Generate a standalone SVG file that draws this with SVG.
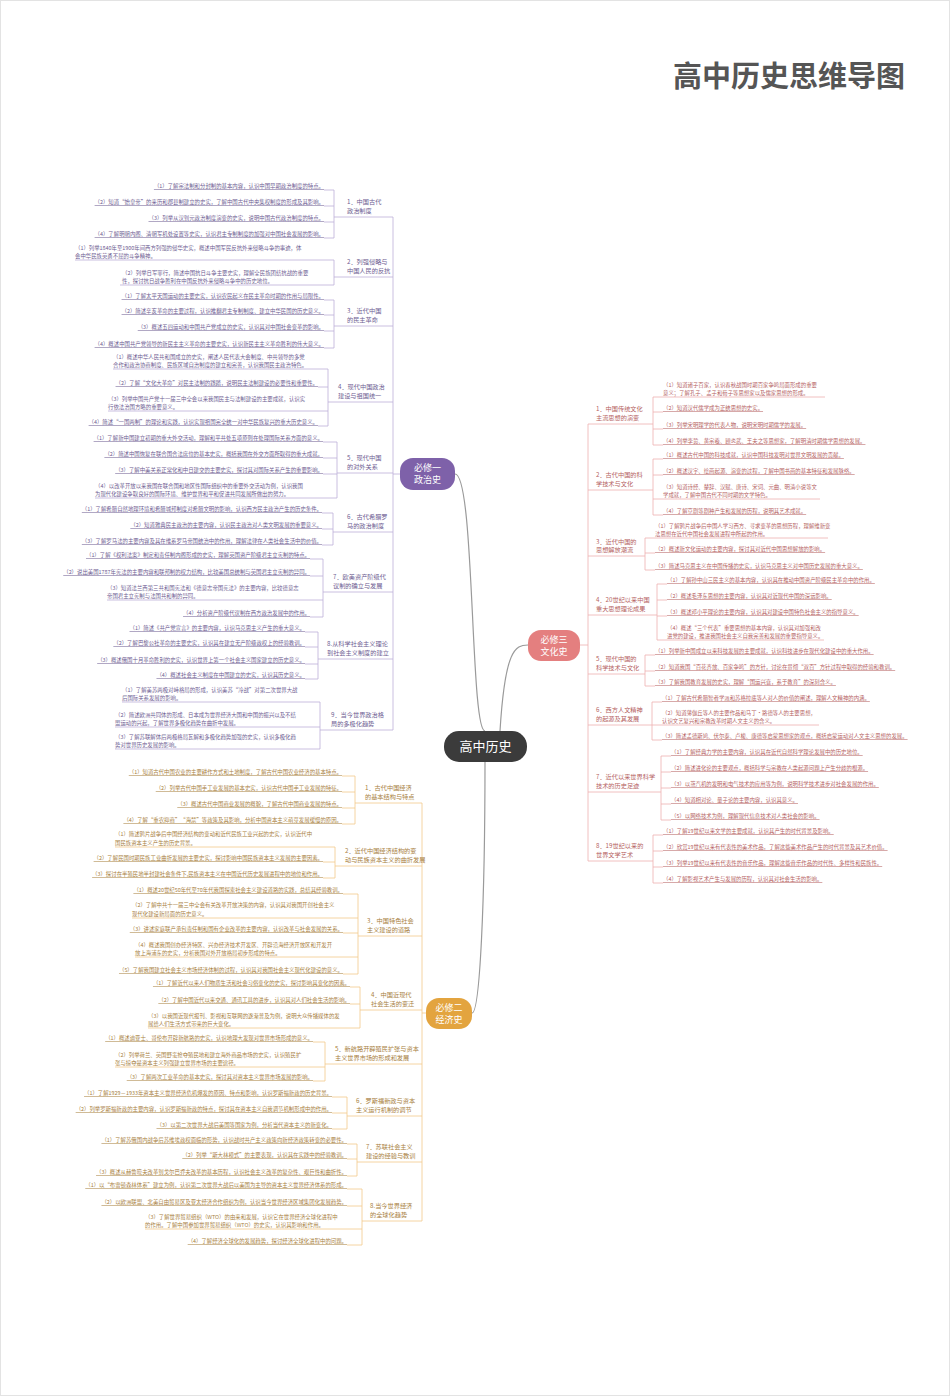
<svg xmlns="http://www.w3.org/2000/svg" width="950" height="1396" viewBox="0 0 950 1396">
<style>
text{font-family:"Noto Sans CJK SC","Noto Sans",sans-serif;}
.t{font-size:5.4px;}
.e{text-anchor:end;}
.u{text-decoration:underline;text-underline-offset:2px;}
.lb{font-size:6.2px;}
.p{fill:#6e5d92;text-decoration-color:#bcaed8;}
.o{fill:#a8803e;text-decoration-color:#f2c98a;}
.c{fill:#b55f5f;text-decoration-color:#eeb0b0;}
.lp{fill:none;stroke:#bcaed8;stroke-width:0.8;}
.lo{fill:none;stroke:#f2c98a;stroke-width:0.8;}
.lc{fill:none;stroke:#eeb0b0;stroke-width:0.8;}
.ls{fill:none;stroke:#9a9a9a;stroke-width:1.2;}
.nt{fill:#fff;font-size:9px;text-anchor:middle;}
</style>
<rect x="0" y="0" width="950" height="1396" fill="#fff"/>
<rect x="0.5" y="0.5" width="949" height="1395" fill="none" stroke="#e3e3e3"/>
<text x="905" y="87" font-size="29" font-weight="bold" fill="#555" text-anchor="end" style="font-family:'Noto Sans CJK SC',sans-serif">高中历史思维导图</text>

<g id="connectors">
<path class="ls" d="M455,474 C475,474 470,731 485,731"/>
<path class="ls" d="M500,731 C505,650 515,645 528,645"/>
<path class="ls" d="M485,762 C485,900 480,1013 472,1013"/>
<!-- politics spine -->
<path class="lp" d="M393,217 V730 M393,474 H400"/>
<path class="lp" d="M334,217 H393 M334,277 H393 M334,326 H393 M328,402 H393 M337,473 H393 M333,532 H393 M323,592 H393 M318,659 H393 M320,730 H393"/>
<path class="lp" d="M334,190 V238 M324,190 H334 M324,206 H334 M324,222 H334 M324,238 H334"/>
<path class="lp" d="M334,260 V285 M75,260 H334 M120,285 H334"/>
<path class="lp" d="M334,300 V348 M324,300 H334 M324,315 H334 M324,331 H334 M324,348 H334"/>
<path class="lp" d="M328,369 V426 M113,369 H328 M318,387 H328 M108,411 H328 M318,426 H328"/>
<path class="lp" d="M337,442 V498 M323,442 H337 M323,458 H337 M323,474 H337 M95,498 H337"/>
<path class="lp" d="M333,513 V545 M322,513 H333 M322,529 H333 M322,545 H333"/>
<path class="lp" d="M323,559 V617 M310,559 H323 M310,576 H323 M107,600 H323 M310,617 H323"/>
<path class="lp" d="M318,632 V679 M305,632 H318 M305,647 H318 M305,664 H318 M305,679 H318"/>
<path class="lp" d="M320,702 V749 M122,702 H320 M115,727 H320 M115,749 H320"/>
<!-- economics -->
<path class="lo" d="M422,803 V1221 M422,1013 H426"/>
<path class="lo" d="M355,803 H422 M335,866 H422 M358,936 H422 M360,1010 H422 M325,1064 H422 M347,1116 H422 M357,1162 H422 M362,1221 H422"/>
<path class="lo" d="M355,776 V824 M342,776 H355 M342,792 H355 M342,808 H355 M342,824 H355"/>
<path class="lo" d="M335,847 V878 M115,847 H335 M323,862 H335 M323,878 H335"/>
<path class="lo" d="M358,894 V974 M343,894 H358 M132,918 H358 M343,933 H358 M135,957 H358 M343,974 H358"/>
<path class="lo" d="M360,987 V1028 M350,987 H360 M350,1004 H360 M148,1028 H360"/>
<path class="lo" d="M325,1042 V1081 M313,1042 H325 M115,1067 H325 M313,1081 H325"/>
<path class="lo" d="M347,1097 V1129 M332,1097 H347 M332,1113 H347 M332,1129 H347"/>
<path class="lo" d="M357,1144 V1176 M347,1144 H357 M347,1159 H357 M347,1176 H357"/>
<path class="lo" d="M362,1189 V1245 M347,1189 H362 M347,1206 H362 M145,1229 H362 M347,1245 H362"/>
<!-- culture -->
<path class="lc" d="M588,424 V861 M580,645 H588"/>
<path class="lc" d="M588,424 H653 M588,490 H653 M588,556 H645 M588,615 H657 M588,674 H645 M588,725 H652 M588,792 H661 M588,861 H653"/>
<path class="lc" d="M653,397 V445 M653,397 H825 M653,412 H663 M653,429 H663 M653,445 H663"/>
<path class="lc" d="M653,459 V515 M653,459 H663 M653,475 H663 M653,499 H820 M653,515 H663"/>
<path class="lc" d="M645,538 V570 M645,538 H828 M645,553 H655 M645,570 H655"/>
<path class="lc" d="M657,584 V640 M657,584 H667 M657,600 H667 M657,616 H667 M657,640 H824"/>
<path class="lc" d="M645,655 V686 M645,655 H655 M645,671 H655 M645,686 H655"/>
<path class="lc" d="M652,702 V740 M652,702 H662 M652,725 H819 M652,740 H662"/>
<path class="lc" d="M661,756 V820 M661,756 H671 M661,772 H671 M661,788 H671 M661,804 H671 M661,820 H671"/>
<path class="lc" d="M653,835 V883 M653,835 H663 M653,851 H663 M653,867 H663 M653,883 H663"/>
</g>

<g id="center"><rect x="444" y="731" width="83" height="31" rx="15" fill="#3b3b3b"/><text x="485.5" y="751" fill="#fff" font-size="13" text-anchor="middle">高中历史</text></g>
<g id="n-politics"><rect x="400" y="458" width="55" height="32" rx="13" fill="#7e61a9"/><text class="nt" x="427.5" y="471">必修一</text><text class="nt" x="427.5" y="483">政治史</text></g>
<g id="n-culture"><rect x="528" y="630" width="52" height="31" rx="13" fill="#e47f7f"/><text class="nt" x="554" y="643">必修三</text><text class="nt" x="554" y="655">文化史</text></g>
<g id="n-economy"><rect x="426" y="998" width="46" height="31" rx="13" fill="#e3a43f"/><text class="nt" x="449" y="1011">必修二</text><text class="nt" x="449" y="1023">经济史</text></g>

<g id="politics">
<text class="lb p" x="347" y="204">1．中国古代</text><text class="lb p" x="347" y="213">政治制度</text>
<text class="t p e u" x="324" y="188">（1）了解宗法制和分封制的基本内容，认识中国早期政治制度的特点。</text>
<text class="t p e u" x="324" y="204">（2）知道“始皇帝”的来历和郡县制建立的史实，了解中国古代中央集权制度的形成及其影响。</text>
<text class="t p e u" x="324" y="220">（3）列举从汉到元政治制度演变的史实，说明中国古代政治制度的特点。</text>
<text class="t p e u" x="324" y="236">（4）了解明朝内阁、清朝军机处设置等史实，认识君主专制制度的加强对中国社会发展的影响。</text>
<text class="lb p" x="347" y="264">2．列强侵略与</text><text class="lb p" x="347" y="273">中国人民的反抗</text>
<text class="t p" x="75" y="250">（1）列举1840年至1900年间西方列强的侵华史实，概述中国军民反抗外来侵略斗争的事迹，体</text>
<text class="t p" x="75" y="258">会中华民族英勇不屈的斗争精神。</text>
<text class="t p" x="122" y="275">（2）列举日军罪行，简述中国抗日斗争主要史实，理解全民族团结抗战的重要</text>
<text class="t p" x="122" y="283">性，探讨抗日战争胜利在中国反抗外来侵略斗争中的历史地位。</text>
<text class="lb p" x="347" y="313">3．近代中国</text><text class="lb p" x="347" y="322">的民主革命</text>
<text class="t p e u" x="324" y="298">（1）了解太平天国运动的主要史实，认识农民起义在民主革命时期的作用与局限性。</text>
<text class="t p e u" x="324" y="313">（2）简述辛亥革命的主要过程，认识推翻君主专制制度、建立中华民国的历史意义。</text>
<text class="t p e u" x="324" y="329">（3）概述五四运动和中国共产党成立的史实，认识其对中国社会变革的影响。</text>
<text class="t p e u" x="324" y="346">（4）概述中国共产党领导的新民主主义革命的主要史实，认识新民主主义革命胜利的伟大意义。</text>
<text class="lb p" x="338" y="389">4．现代中国政治</text><text class="lb p" x="338" y="398">建设与祖国统一</text>
<text class="t p" x="113" y="359">（1）概述中华人民共和国成立的史实，阐述人民代表大会制度、中共领导的多党</text>
<text class="t p" x="113" y="367">合作和政治协商制度、民族区域自治制度的建立和完善，认识我国民主政治特色。</text>
<text class="t p e u" x="318" y="385">（2）了解“文化大革命”对民主法制的践踏，说明民主法制建设的必要性和重要性。</text>
<text class="t p" x="108" y="401">（3）列举中国共产党十一届三中全会以来我国民主与法制建设的主要成就，认识实</text>
<text class="t p" x="108" y="409">行依法治国方略的重要意义。</text>
<text class="t p e u" x="318" y="424">（4）简述“一国两制”的理论和实践，认识实现祖国完全统一对中华民族复兴的重大历史意义。</text>
<text class="lb p" x="347" y="460">5．现代中国</text><text class="lb p" x="347" y="469">的对外关系</text>
<text class="t p e u" x="323" y="440">（1）了解新中国建立初期的重大外交活动，理解和平共处五项原则在处理国际关系方面的意义。</text>
<text class="t p e u" x="323" y="456">（2）简述中国恢复在联合国合法席位的基本史实，概括我国在外交方面所取得的重大成就。</text>
<text class="t p e u" x="323" y="472">（3）了解中美关系正常化和中日建交的主要史实，探讨其对国际关系产生的重要影响。</text>
<text class="t p" x="95" y="488">（4）以改革开放以来我国在联合国和地区性国际组织中的重要外交活动为例，认识我国</text>
<text class="t p" x="95" y="496">为现代化建设争取良好的国际环境、维护世界和平和促进共同发展所做出的努力。</text>
<text class="lb p" x="347" y="519">6．古代希腊罗</text><text class="lb p" x="347" y="528">马的政治制度</text>
<text class="t p e u" x="322" y="511">（1）了解希腊自然地理环境和希腊城邦制度对希腊文明的影响，认识西方民主政治产生的历史条件。</text>
<text class="t p e u" x="322" y="527">（2）知道雅典民主政治的主要内容，认识民主政治对人类文明发展的重要意义。</text>
<text class="t p e u" x="322" y="543">（3）了解罗马法的主要内容及其在维系罗马帝国统治中的作用，理解法律在人类社会生活中的价值。</text>
<text class="lb p" x="333" y="579">7．欧美资产阶级代</text><text class="lb p" x="333" y="588">议制的确立与发展</text>
<text class="t p e u" x="310" y="557">（1）了解《权利法案》制定和责任制内阁形成的史实，理解英国资产阶级君主立宪制的特点。</text>
<text class="t p e u" x="310" y="574">（2）说出美国1787年宪法的主要内容和联邦制的权力结构，比较美国总统制与英国君主立宪制的异同。</text>
<text class="t p" x="107" y="590">（3）知道法兰西第三共和国宪法和《德意志帝国宪法》的主要内容，比较德意志</text>
<text class="t p" x="107" y="598">帝国君主立宪制与法国共和制的异同。</text>
<text class="t p e u" x="310" y="615">（4）分析资产阶级代议制在西方政治发展中的作用。</text>
<text class="lb p" x="327" y="646">8.从科学社会主义理论</text><text class="lb p" x="327" y="655">到社会主义制度的建立</text>
<text class="t p e u" x="305" y="630">（1）简述《共产党宣言》的主要内容，认识马克思主义产生的重大意义。</text>
<text class="t p e u" x="305" y="645">（2）了解巴黎公社革命的主要史实，认识其在建立无产阶级政权上的经验教训。</text>
<text class="t p e u" x="305" y="662">（3）概述俄国十月革命胜利的史实，认识世界上第一个社会主义国家建立的历史意义。</text>
<text class="t p e u" x="305" y="677">（4）概述社会主义制度在中国建立的史实，认识其历史意义。</text>
<text class="lb p" x="331" y="717">9．当今世界政治格</text><text class="lb p" x="331" y="726">局的多极化趋势</text>
<text class="t p" x="122" y="692">（1）了解美苏两极对峙格局的形成，认识美苏“冷战”对第二次世界大战</text>
<text class="t p" x="122" y="700">后国际关系发展的影响。</text>
<text class="t p" x="115" y="717">（2）简述欧洲共同体的形成、日本成为世界经济大国和中国的振兴以及不结</text>
<text class="t p" x="115" y="725">盟运动的兴起，了解世界多极化趋势在曲折中发展。</text>
<text class="t p" x="115" y="739">（3）了解苏联解体后两极格局瓦解和多极化趋势加强的史实，认识多极化趋</text>
<text class="t p" x="115" y="747">势对世界历史发展的影响。</text>
</g>

<g id="economy">
<text class="lb o" x="365" y="790">1．古代中国经济</text><text class="lb o" x="365" y="799">的基本结构与特点</text>
<text class="t o e u" x="342" y="774">（1）知道古代中国农业的主要耕作方式和土地制度，了解古代中国农业经济的基本特点。</text>
<text class="t o e u" x="342" y="790">（2）列举古代中国手工业发展的基本史实，认识古代中国手工业发展的特征。</text>
<text class="t o e u" x="342" y="806">（3）概述古代中国商业发展的概貌，了解古代中国商业发展的特点。</text>
<text class="t o e u" x="342" y="822">（4）了解“重农抑商”“海禁”等政策及其影响，分析中国资本主义萌芽发展缓慢的原因。</text>
<text class="lb o" x="345" y="853">2．近代中国经济结构的变</text><text class="lb o" x="345" y="862">动与民族资本主义的曲折发展</text>
<text class="t o" x="115" y="836">（1）简述鸦片战争后中国经济结构的变动和近代民族工业兴起的史实，认识近代中</text>
<text class="t o" x="115" y="845">国民族资本主义产生的历史背景。</text>
<text class="t o e u" x="323" y="860">（2）了解民国时期民族工业曲折发展的主要史实，探讨影响中国民族资本主义发展的主要因素。</text>
<text class="t o e u" x="323" y="876">（3）探讨在半殖民地半封建社会条件下,民族资本主义在中国近代历史发展进程中的地位和作用。</text>
<text class="lb o" x="367" y="923">3．中国特色社会</text><text class="lb o" x="367" y="932">主义建设的道路</text>
<text class="t o e u" x="343" y="892">（1）概述20世纪50年代至70年代我国探索社会主义建设道路的实践，总结其经验教训。</text>
<text class="t o" x="132" y="907">（2）了解中共十一届三中全会有关改革开放决策的内容，认识其对我国开创社会主义</text>
<text class="t o" x="132" y="916">现代化建设新局面的历史意义。</text>
<text class="t o e u" x="343" y="931">（3）讲述家庭联产承包责任制和国有企业改革的主要内容，认识改革与社会发展的关系。</text>
<text class="t o" x="135" y="947">（4）概述我国创办经济特区、兴办经济技术开发区、开辟沿海经济开放区和开发开</text>
<text class="t o" x="135" y="955">放上海浦东的史实，分析我国对外开放格局初步形成的特点。</text>
<text class="t o e u" x="343" y="972">（5）了解我国建立社会主义市场经济体制的过程，认识其对我国社会主义现代化建设的意义。</text>
<text class="lb o" x="371" y="997">4．中国近现代</text><text class="lb o" x="371" y="1006">社会生活的变迁</text>
<text class="t o e u" x="350" y="985">（1）了解近代以来人们物质生活和社会习俗变化的史实，探讨影响其变化的因素。</text>
<text class="t o e u" x="350" y="1002">（2）了解中国近代以来交通、通讯工具的进步，认识其对人们社会生活的影响。</text>
<text class="t o" x="148" y="1018">（3）以我国近现代报刊、影视和互联网的逐渐普及为例，说明大众传播媒体的发</text>
<text class="t o" x="148" y="1026">展给人们生活方式带来的巨大变化。</text>
<text class="lb o" x="335" y="1051">5．新航路开辟殖民扩张与资本</text><text class="lb o" x="335" y="1060">主义世界市场的形成和发展</text>
<text class="t o e u" x="313" y="1040">（1）概述迪亚士、哥伦布开辟新航路的史实，认识地理大发现对世界市场形成的意义。</text>
<text class="t o" x="115" y="1057">（2）列举荷兰、英国野蛮抢夺殖民地和建立海外商品市场的史实，认识殖民扩</text>
<text class="t o" x="115" y="1065">张与掠夺是资本主义列强建立世界市场的主要途径。</text>
<text class="t o e u" x="313" y="1079">（3）了解两次工业革命的基本史实，探讨其对资本主义世界市场发展的影响。</text>
<text class="lb o" x="356" y="1103">6．罗斯福新政与资本</text><text class="lb o" x="356" y="1112">主义运行机制的调节</text>
<text class="t o e u" x="332" y="1095">（1）了解1929－1933年资本主义世界经济危机爆发的原因、特点和影响，认识罗斯福新政的历史背景。</text>
<text class="t o e u" x="332" y="1111">（2）列举罗斯福新政的主要内容，认识罗斯福新政的特点，探讨其在资本主义自我调节机制形成中的作用。</text>
<text class="t o e u" x="332" y="1127">（3）以第二次世界大战后美国等国家为例，分析当代资本主义的新变化。</text>
<text class="lb o" x="366" y="1149">7．苏联社会主义</text><text class="lb o" x="366" y="1158">建设的经验与教训</text>
<text class="t o e u" x="347" y="1142">（1）了解苏俄国内战争后苏维埃政权面临的形势，认识战时共产主义政策向新经济政策转变的必要性。</text>
<text class="t o e u" x="347" y="1157">（2）列举“斯大林模式”的主要表现，认识其在实践中的经验教训。</text>
<text class="t o e u" x="347" y="1174">（3）概述从赫鲁晓夫改革到戈尔巴乔夫改革的基本历程，认识社会主义改革的复杂性、艰巨性和曲折性。</text>
<text class="lb o" x="370" y="1208">8.当今世界经济</text><text class="lb o" x="370" y="1217">的全球化趋势</text>
<text class="t o e u" x="347" y="1187">（1）以“布雷顿森林体系”建立为例，认识第二次世界大战后以美国为主导的资本主义世界经济体系的形成。</text>
<text class="t o e u" x="347" y="1204">（2）以欧洲联盟、北美自由贸易区及亚太经济合作组织为例，认识当今世界经济区域集团化发展趋势。</text>
<text class="t o" x="145" y="1219">（3）了解世界贸易组织（WTO）的由来和发展，认识它在世界经济全球化进程中</text>
<text class="t o" x="145" y="1227">的作用。了解中国参加世界贸易组织（WTO）的史实，认识其影响和作用。</text>
<text class="t o e u" x="347" y="1243">（4）了解经济全球化的发展趋势，探讨经济全球化进程中的问题。</text>
</g>

<g id="culture">
<text class="lb c" x="596" y="411">1．中国传统文化</text><text class="lb c" x="596" y="420">主流思想的演变</text>
<text class="t c" x="663" y="387">（1）知道诸子百家，认识春秋战国时期百家争鸣局面形成的重要</text>
<text class="t c" x="663" y="395">意义；了解孔子、孟子和荀子等思想家以及儒家思想的形成。</text>
<text class="t c u" x="663" y="410">（2）知道汉代儒学成为正统思想的史实。</text>
<text class="t c u" x="663" y="427">（3）列举宋明理学的代表人物，说明宋明时期儒学的发展。</text>
<text class="t c u" x="663" y="443">（4）列举李贽、黄宗羲、顾炎武、王夫之等思想家，了解明清时期儒学思想的发展。</text>
<text class="lb c" x="596" y="477">2．古代中国的科</text><text class="lb c" x="596" y="486">学技术与文化</text>
<text class="t c u" x="663" y="457">（1）概述古代中国的科技成就，认识中国科技发明对世界文明发展的贡献。</text>
<text class="t c u" x="663" y="473">（2）概述汉字、绘画起源、演变的过程，了解中国书画的基本特征和发展脉络。</text>
<text class="t c" x="663" y="489">（3）知道诗经、楚辞、汉赋、唐诗、宋词、元曲、明清小说等文</text>
<text class="t c" x="663" y="497">学成就，了解中国古代不同时期的文学特色。</text>
<text class="t c u" x="663" y="513">（4）了解京剧等剧种产生和发展的历程，说明其艺术成就。</text>
<text class="lb c" x="596" y="544">3．近代中国的</text><text class="lb c" x="596" y="552">思想解放潮流</text>
<text class="t c" x="655" y="528">（1）了解鸦片战争后中国人学习西方、寻求变革的思想历程，理解维新变</text>
<text class="t c" x="655" y="536">法思想在近代中国社会发展进程中所起的作用。</text>
<text class="t c u" x="655" y="551">（2）概述新文化运动的主要内容，探讨其对近代中国思想解放的影响。</text>
<text class="t c u" x="655" y="568">（3）简述马克思主义在中国传播的史实，认识马克思主义对中国历史发展的重大意义。</text>
<text class="lb c" x="596" y="602">4．20世纪以来中国</text><text class="lb c" x="596" y="611">重大思想理论成果</text>
<text class="t c u" x="667" y="582">（1）了解孙中山三民主义的基本内容，认识其在推动中国资产阶级民主革命中的作用。</text>
<text class="t c u" x="667" y="598">（2）概述毛泽东思想的主要内容，认识其对近现代中国的深远影响。</text>
<text class="t c u" x="667" y="614">（3）概述邓小平理论的主要内容，认识其对建设中国特色社会主义的指导意义。</text>
<text class="t c" x="667" y="630">（4）概述“三个代表”重要思想的基本内容，认识其对加强和改</text>
<text class="t c" x="667" y="638">进党的建设，推进我国社会主义自我完善和发展的重要指导意义。</text>
<text class="lb c" x="596" y="661">5．现代中国的</text><text class="lb c" x="596" y="670">科学技术与文化</text>
<text class="t c u" x="655" y="653">（1）列举新中国成立以来科技发展的主要成就，认识科技进步在现代化建设中的重大作用。</text>
<text class="t c u" x="655" y="669">（2）知道我国“百花齐放、百家争鸣”的方针，讨论在贯彻“双百”方针过程中取得的经验和教训。</text>
<text class="t c u" x="655" y="684">（3）了解我国教育发展的史实，理解“国运兴衰，系于教育”的深刻含义。</text>
<text class="lb c" x="596" y="712">6．西方人文精神</text><text class="lb c" x="596" y="721">的起源及其发展</text>
<text class="t c u" x="662" y="700">（1）了解古代希腊智者学派和苏格拉底等人对人的价值的阐述，理解人文精神的内涵。</text>
<text class="t c" x="662" y="715">（2）知道薄伽丘等人的主要作品和马丁·路德等人的主要思想，</text>
<text class="t c" x="662" y="723">认识文艺复兴和宗教改革时期人文主义的含义。</text>
<text class="t c u" x="662" y="738">（3）简述孟德斯鸠、伏尔泰、卢梭、康德等启蒙思想家的观点，概括启蒙运动对人文主义思想的发展。</text>
<text class="lb c" x="596" y="779">7．近代以来世界科学</text><text class="lb c" x="596" y="788">技术的历史足迹</text>
<text class="t c u" x="671" y="754">（1）了解经典力学的主要内容，认识其在近代自然科学理论发展中的历史地位。</text>
<text class="t c u" x="671" y="770">（2）简述进化论的主要观点，概括科学与宗教在人类起源问题上产生分歧的根源。</text>
<text class="t c u" x="671" y="786">（3）以蒸汽机的发明和电气技术的应用等为例，说明科学技术进步对社会发展的作用。</text>
<text class="t c u" x="671" y="802">（4）知道相对论、量子论的主要内容，认识其意义。</text>
<text class="t c u" x="671" y="818">（5）以网络技术为例，理解现代信息技术对人类社会的影响。</text>
<text class="lb c" x="596" y="848">8．19世纪以来的</text><text class="lb c" x="596" y="857">世界文学艺术</text>
<text class="t c u" x="663" y="833">（1）了解19世纪以来文学的主要成就，认识其产生的时代背景及影响。</text>
<text class="t c u" x="663" y="849">（2）欣赏19世纪以来有代表性的美术作品，了解这些美术作品产生的时代背景及其艺术价值。</text>
<text class="t c u" x="663" y="865">（3）列举19世纪以来有代表性的音乐作品，理解这些音乐作品的时代性、多样性和民族性。</text>
<text class="t c u" x="663" y="881">（4）了解影视艺术产生与发展的历程，认识其对社会生活的影响。</text>
</g>
</svg>
